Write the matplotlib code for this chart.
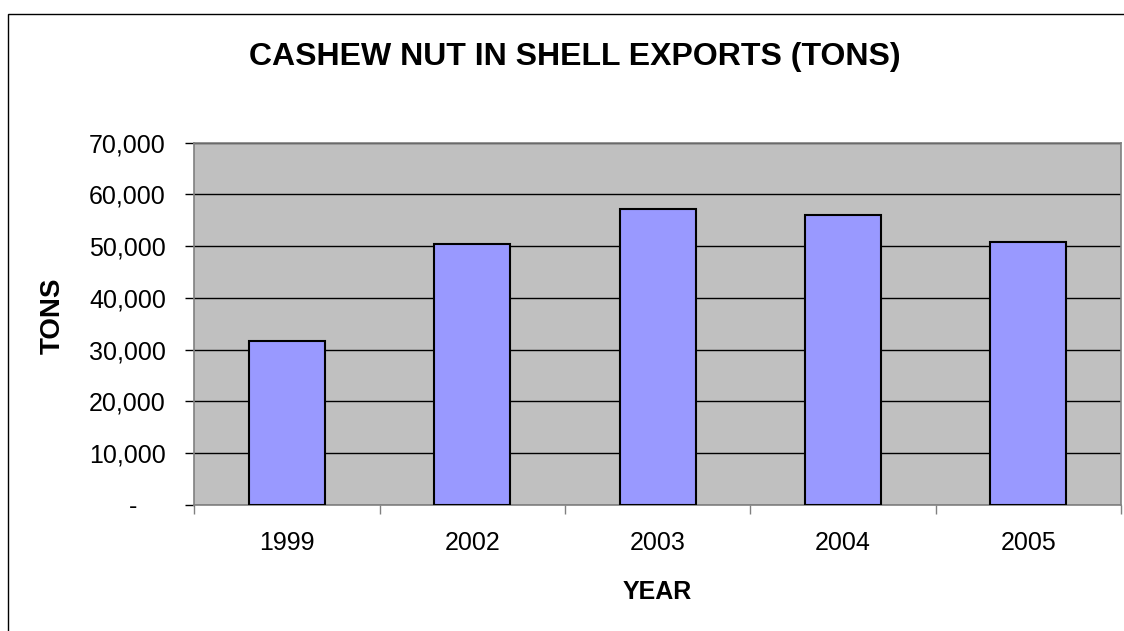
import matplotlib.pyplot as plt
import matplotlib.ticker as mticker
from matplotlib.patches import Rectangle
import numpy as np

years = ['1999', '2002', '2003', '2004', '2005']
tons = [31700, 50400, 57100, 56000, 50800]

plt.rcParams['font.family'] = ['Liberation Sans', 'DejaVu Sans']

fig = plt.figure(figsize=(11.24, 6.31), dpi=100)

# outer chart border (cut off on the right and bottom in the original)
fig.patches.append(Rectangle((8 / 1124, -0.05), 1.2, (631 - 13.7) / 631 + 0.05,
                             transform=fig.transFigure, fill=False,
                             edgecolor='black', linewidth=1.0))

ax = fig.add_axes([194.3 / 1124, 126 / 631, (1121 - 194.3) / 1124, (505 - 142.7) / 631])
ax.set_facecolor('#C0C0C0')

x = np.arange(len(years))
ax.bar(x, tons, width=0.41, color='#9999FF', edgecolor='black', linewidth=1.5, zorder=3)

ax.set_xlim(-0.5, len(years) - 0.5)
ax.set_ylim(0, 70000)
ax.set_yticks(np.arange(0, 70001, 10000))
# accounting style: zero shown as a dash, set in from the right
ax.yaxis.set_major_formatter(mticker.FuncFormatter(lambda v, p: '-    ' if v == 0 else f'{int(v):,}'))
ax.set_xticks(x)
ax.set_xticklabels(years)
ax.set_xticks(np.arange(-0.5, len(years), 1.0), minor=True)

ax.grid(axis='y', color='black', linewidth=1.0, zorder=1)
ax.set_axisbelow(True)

for s in ax.spines.values():
    s.set_color('#808080')
    s.set_linewidth(1.2)

ax.tick_params(axis='y', which='major', length=6.5, width=1, color='black', pad=14, labelsize=18)
ax.tick_params(axis='x', which='major', length=0, pad=19, labelsize=18)
ax.tick_params(axis='x', which='minor', length=6.5, width=1, color='#808080')

ax.set_xlabel('YEAR', fontsize=18, fontweight='bold', labelpad=18)
ax.set_ylabel('TONS', fontsize=20, fontweight='bold')
ax.yaxis.set_label_coords(66 / 1124, 0.5, transform=fig.transFigure)

fig.text(575 / 1124, 1 - 57 / 631, 'CASHEW NUT IN SHELL EXPORTS (TONS)',
         ha='center', va='center', fontsize=23, fontweight='bold')

fig.savefig('out.png', dpi=100)
